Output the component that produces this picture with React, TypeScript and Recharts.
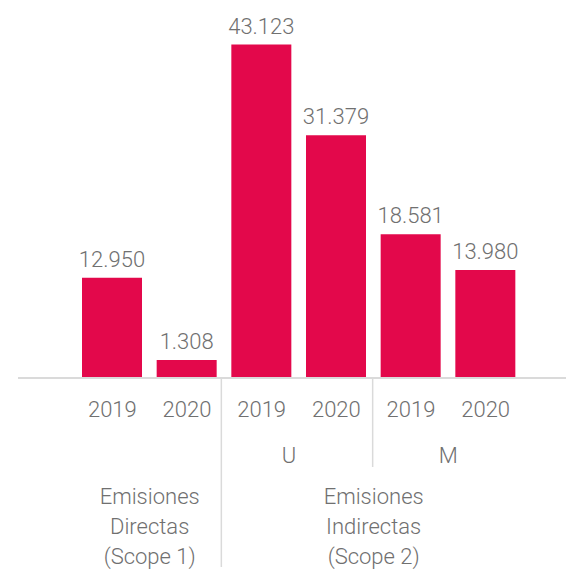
import React from 'react';
import { BarChart, Bar, XAxis, YAxis, LabelList } from 'recharts';

const years = ['2019', '2020', '2019', '2020', '2019', '2020'];
const emissions = [12950, 1308, 43123, 31379, 18581, 13980];

// sub-groups drawn under the years (index ranges into the arrays above)
const subGroups = [
  { label: 'U', from: 2, to: 3, dx: -10 },
  { label: 'M', from: 4, to: 5, dx: 0 },
];
const scopeGroups = [
  { lines: ['Emisiones', 'Directas', '(Scope 1)'], from: 0, to: 1 },
  { lines: ['Emisiones', 'Indirectas', '(Scope 2)'], from: 2, to: 5 },
];

const data = years.map((year, i) => ({ year, value: emissions[i] }));

const W = 566;
const H = 575;
const AXIS_H = 197;
const BASE = H - AXIS_H;
const BAR = '#E3084B';
const TEXT = '#707070';
const RULE = '#dadada';
const FONT = 'Roboto, "Open Sans", sans-serif';

const fmt = (v: number) => String(v).replace(/\B(?=(\d{3})+(?!\d))/g, '.');

// tick x positions collected while the axis renders its ticks
const tickX: number[] = [];

function GroupedTick(props: any) {
  const { x, index, payload } = props;
  tickX[index] = x;
  const txt = { fontFamily: FONT, fontSize: 22, fontWeight: 300, fill: TEXT, textAnchor: 'middle' as const };
  const last = index === years.length - 1;
  const mid = (a: number, b: number) => (tickX[a] + tickX[b]) / 2;
  return (
    <g>
      <text x={x} y={BASE + 39} {...txt}>
        {payload.value}
      </text>
      {last && (
        <g>
          {subGroups.map((g) => (
            <text key={g.label} x={mid(g.from, g.to) + g.dx} y={BASE + 85} {...txt}>
              {g.label}
            </text>
          ))}
          {scopeGroups.map((g) => (
            <text key={g.lines[2]} x={mid(g.from, g.to)} y={BASE + 126} {...txt}>
              {g.lines.map((l, k) => (
                <tspan key={l} x={mid(g.from, g.to)} dy={k === 0 ? 0 : 30}>
                  {l}
                </tspan>
              ))}
            </text>
          ))}
          {/* separators between scope 1 / U / M */}
          <line x1={mid(1, 2) - 3} x2={mid(1, 2) - 3} y1={BASE} y2={BASE + 189} stroke={RULE} strokeWidth={1.5} />
          <line x1={mid(3, 4) - 1} x2={mid(3, 4) - 1} y1={BASE} y2={BASE + 89} stroke={RULE} strokeWidth={1.5} />
        </g>
      )}
    </g>
  );
}

export default function App() {
  return (
    <div style={{ position: 'absolute', left: 0, top: 0, background: '#fff' }}>
      <BarChart width={W} height={H} data={data} margin={{ top: 30, right: 0, bottom: 0, left: 18 }} barSize={60}>
        <XAxis
          dataKey="year"
          height={AXIS_H}
          padding={{ left: 57, right: 43 }}
          axisLine={{ stroke: RULE, strokeWidth: 2 }}
          tickLine={false}
          interval={0}
          tick={<GroupedTick />}
        />
        <YAxis hide domain={[0, 45000]} />
        <Bar dataKey="value" fill={BAR} minPointSize={18} isAnimationActive={false}>
          <LabelList
            dataKey="value"
            position="top"
            offset={11}
            formatter={(v: any) => fmt(Number(v))}
            style={{ fontFamily: FONT, fontSize: 22, fontWeight: 300, fill: TEXT }}
          />
        </Bar>
      </BarChart>
    </div>
  );
}
